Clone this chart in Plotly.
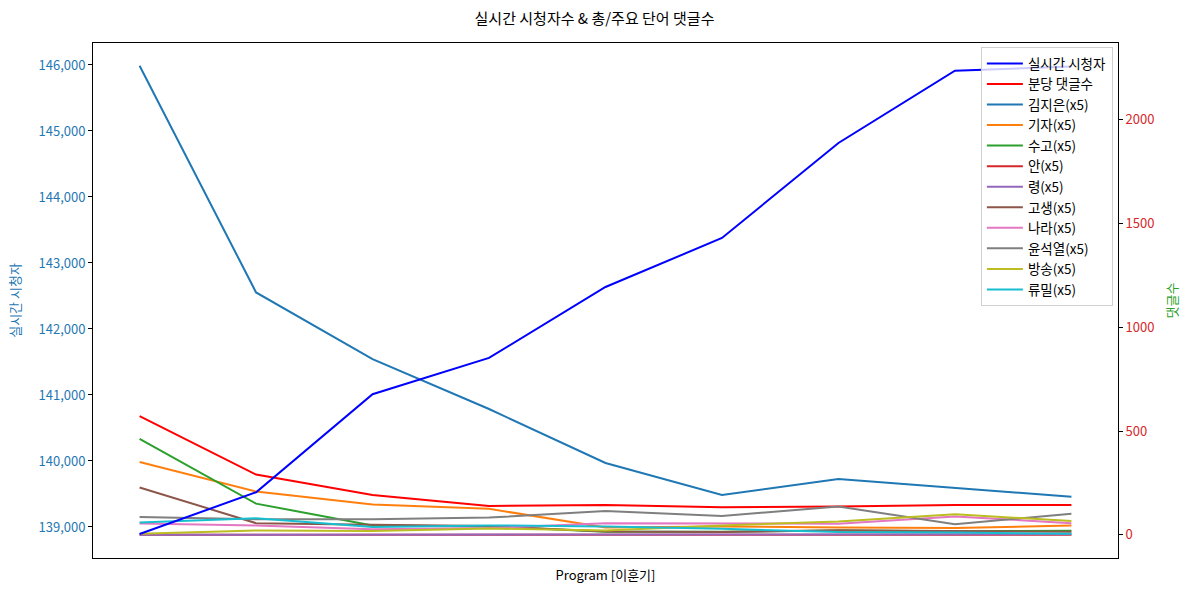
import plotly.graph_objects as go

x_idx = list(range(9))

viewers = [138894, 139526, 141011, 141561, 142636, 143379, 144818, 145914, 145977]
per_min_comments = [572, 290, 192, 139, 144, 133, 136, 143, 144]

word_names = ["김지은(x5)", "기자(x5)", "수고(x5)", "안(x5)", "령(x5)", "고생(x5)",
              "나라(x5)", "윤석열(x5)", "방송(x5)", "류밀(x5)"]
word_colors = ["#1f77b4", "#ff7f0e", "#2ca02c", "#d62728", "#9467bd", "#8c564b",
               "#e377c2", "#7f7f7f", "#bcbd22", "#17becf"]
kimjieun = [2260, 1168, 846, 606, 346, 192, 269, 226, 183]
gija = [351, 208, 146, 125, 35, 40, 35, 32, 45]
sugo = [462, 150, 45, 40, 15, 15, 20, 17, 19]
an = [0, 0, 0, 0, 0, 0, 0, 0, 0]
ryeong = [0, 0, 0, 0, 2, 2, 3, 2, 2]
gosaeng = [228, 56, 48, 42, 16, 13, 22, 19, 14]
nara = [54, 45, 27, 32, 56, 56, 53, 88, 56]
yoon = [85, 75, 75, 83, 114, 91, 136, 51, 101]
bangsong = [5, 21, 18, 30, 21, 45, 64, 99, 66]
ryumil = [59, 80, 37, 45, 40, 29, 13, 11, 5]
word_values = [kimjieun, gija, sugo, an, ryeong, gosaeng, nara, yoon, bangsong, ryumil]

FONT = "Noto Sans CJK KR"

fig = go.Figure()
# viewers on yaxis2 (left side, drawn on top)
fig.add_trace(go.Scatter(x=x_idx, y=viewers, mode="lines", name="실시간 시청자",
                         line=dict(color="blue", width=2), yaxis="y2"))
fig.add_trace(go.Scatter(x=x_idx, y=per_min_comments, mode="lines", name="분당 댓글수",
                         line=dict(color="red", width=2), yaxis="y"))
for nm, col, vals in zip(word_names, word_colors, word_values):
    fig.add_trace(go.Scatter(x=x_idx, y=vals, mode="lines", name=nm,
                             line=dict(color=col, width=2), yaxis="y"))

fig.update_layout(
    width=1189, height=592,
    margin=dict(l=93, r=71, t=43, b=34),
    paper_bgcolor="white", plot_bgcolor="white",
    font=dict(family=FONT, size=13, color="black"),
    title=dict(text="실시간 시청자수 & 총/주요 단어 댓글수", x=0.5, xanchor="center",
               y=1 - 19 / 592, yanchor="middle", font=dict(size=15, family=FONT)),
    showlegend=True,
    legend=dict(x=0.995, xanchor="right", y=0.992, yanchor="top",
                bgcolor="rgba(255,255,255,0.8)", bordercolor="#d0d0d0", borderwidth=1,
                font=dict(size=13.5, family=FONT), tracegroupgap=0, itemwidth=36),
    xaxis=dict(range=[-0.4, 8.4], showticklabels=False, ticks="", showgrid=False,
               zeroline=False, showline=True, linecolor="black", linewidth=1, mirror=True,
               title=dict(text="Program [이훈기]", font=dict(size=13, color="black"), standoff=12)),
    yaxis=dict(side="right", range=[-112, 2370], tickvals=[0, 500, 1000, 1500, 2000],
               ticks="outside", ticklen=4, tickcolor="black", showgrid=False, zeroline=False,
               showline=True, linecolor="black", linewidth=1,
               tickfont=dict(color="#d62728", size=13),
               title=dict(text="댓글수", font=dict(color="#2ca02c", size=13), standoff=14)),
    yaxis2=dict(side="left", overlaying="y", range=[138530, 146333], dtick=1000,
                tickformat=",", ticks="outside", ticklen=4, tickcolor="black",
                showgrid=False, zeroline=False, showline=True, linecolor="black", linewidth=1,
                tickfont=dict(color="#1f77b4", size=13),
                title=dict(text="실시간 시청자", font=dict(color="#1f77b4", size=13), standoff=14)),
)

fig.write_html("out.html")
